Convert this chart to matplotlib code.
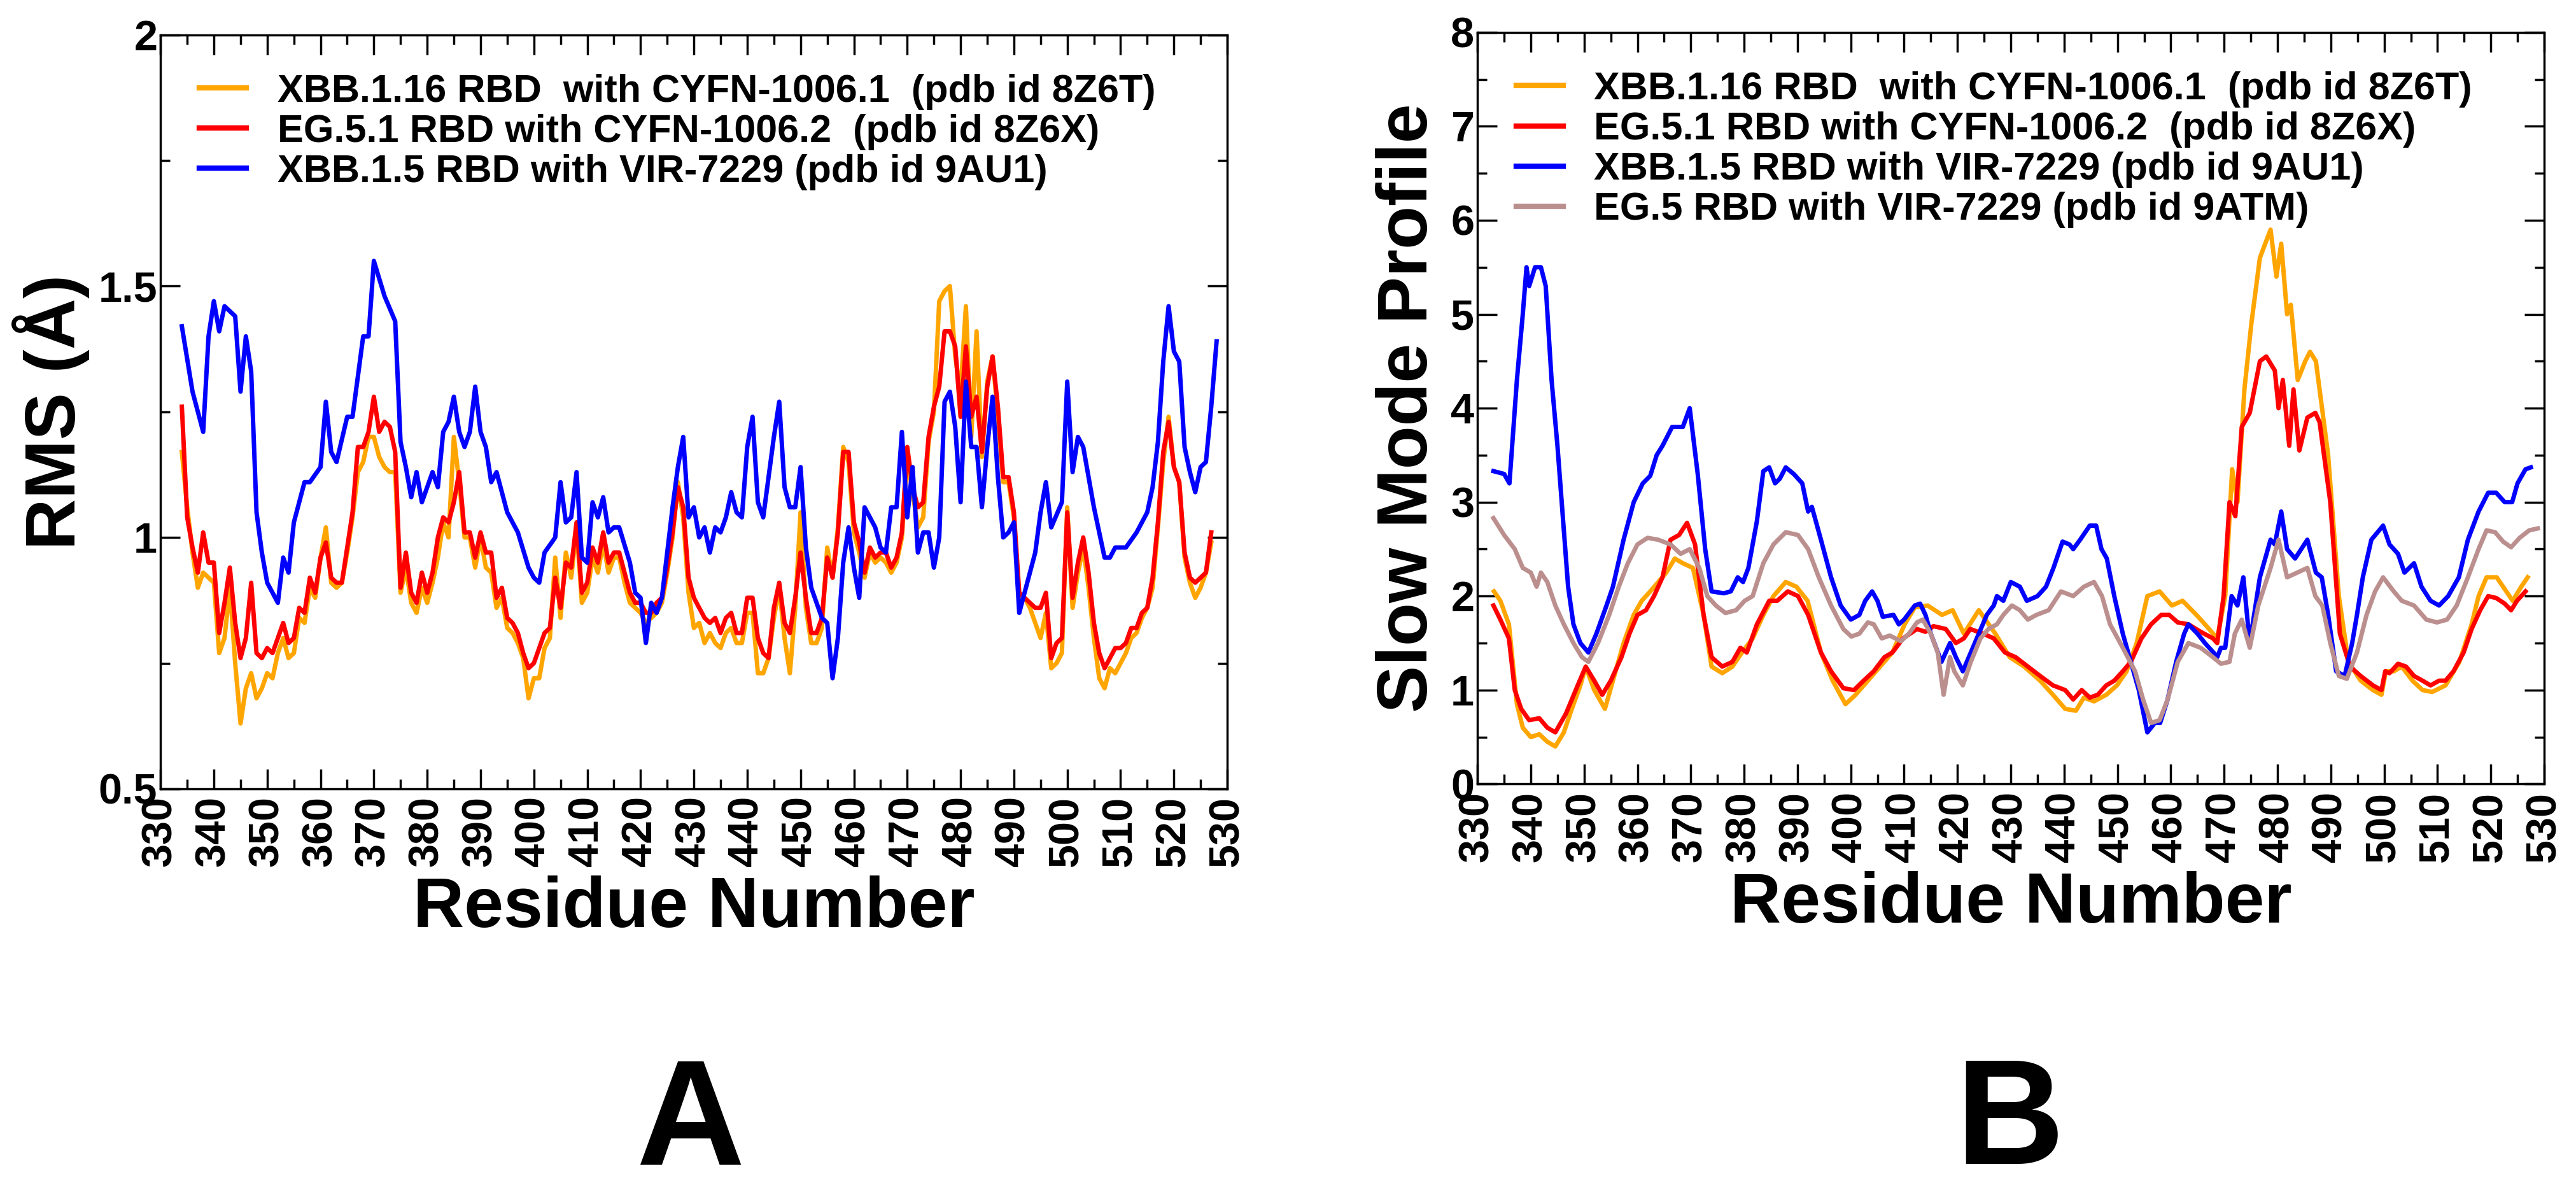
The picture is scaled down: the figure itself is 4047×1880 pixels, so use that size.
import matplotlib
matplotlib.use("Agg")
import matplotlib.pyplot as plt
from matplotlib.ticker import MultipleLocator, FormatStrFormatter
from matplotlib import font_manager as fm

names = {f.name for f in fm.fontManager.ttflist}
NARROW = "Liberation Sans Narrow" if "Liberation Sans Narrow" in names else "Liberation Sans"
BOLD = "Liberation Sans"

# ---------------- Panel A data (RMS) ----------------
a_blue_x = [334,336,338,339,340,341,342,344,345,346,347,348,349,350,352,353,354,355,357,358,360,361,362,363,365,366,368,369,370,372,374,375,376,377,378,379,381,382,383,384,385,386,387,388,389,390,391,392,393,395,397,399,400,401,402,404,405,406,407,408,409,410,411,412,413,414,415,416,418,419,420,421,422,423,424,425,426,427,428,429,430,431,432,433,434,435,436,437,438,439,440,441,442,443,444,445,446,447,448,449,450,451,452,453,454,455,456,457,458,459,460,461,462,463,464,465,466,467,468,469,470,471,472,473,474,475,476,477,478,479,480,481,482,483,484,485,486,487,488,489,490,491,492,494,495,496,497,499,500,501,502,503,505,507,508,509,511,513,515,516,517,518,519,520,521,522,523,524,525,526,527,528]
a_blue_y = [1.42,1.29,1.21,1.40,1.47,1.41,1.46,1.44,1.29,1.40,1.33,1.05,0.97,0.91,0.87,0.96,0.93,1.03,1.11,1.11,1.14,1.27,1.17,1.15,1.24,1.24,1.40,1.40,1.55,1.48,1.43,1.19,1.14,1.08,1.13,1.07,1.13,1.10,1.21,1.23,1.28,1.21,1.18,1.21,1.30,1.21,1.18,1.11,1.13,1.05,1.01,0.94,0.92,0.91,0.97,1.00,1.11,1.03,1.04,1.13,0.96,0.95,1.07,1.04,1.08,1.01,1.02,1.02,0.95,0.89,0.88,0.79,0.87,0.85,0.88,0.97,1.06,1.14,1.20,1.04,1.06,1.00,1.02,0.97,1.02,1.01,1.04,1.09,1.05,1.04,1.18,1.24,1.07,1.04,1.12,1.20,1.27,1.10,1.06,1.06,1.14,0.98,0.90,0.87,0.84,0.83,0.72,0.80,0.95,1.02,0.94,0.88,1.06,1.04,1.02,0.98,0.97,1.06,1.06,1.21,1.04,1.14,0.97,1.01,1.01,0.94,1.00,1.27,1.29,1.22,1.07,1.31,1.18,1.18,1.06,1.18,1.28,1.12,1.00,1.01,1.03,0.85,0.89,0.97,1.05,1.11,1.02,1.07,1.31,1.13,1.20,1.18,1.06,0.96,0.96,0.98,0.98,1.01,1.05,1.10,1.19,1.35,1.46,1.37,1.35,1.18,1.13,1.09,1.14,1.15,1.26,1.39]

a_res = list(range(334, 528))
a_red_y = [1.26,1.04,0.98,0.93,1.01,0.95,0.95,0.81,0.87,0.94,0.83,0.76,0.80,0.91,0.77,0.76,0.78,0.77,0.80,0.83,0.79,0.80,0.86,0.85,0.92,0.89,0.96,0.99,0.92,0.91,0.91,0.98,1.05,1.18,1.18,1.21,1.28,1.21,1.23,1.22,1.17,0.90,0.97,0.89,0.87,0.93,0.89,0.93,1.00,1.04,1.03,1.07,1.13,1.01,1.01,0.96,1.01,0.97,0.97,0.88,0.90,0.84,0.83,0.81,0.77,0.74,0.75,0.78,0.81,0.82,0.92,0.86,0.95,0.94,1.03,0.89,0.91,0.98,0.95,1.01,0.95,0.97,0.97,0.93,0.89,0.87,0.87,0.85,0.85,0.87,0.88,0.94,1.01,1.10,1.06,0.92,0.88,0.86,0.84,0.83,0.84,0.81,0.84,0.85,0.81,0.81,0.88,0.88,0.80,0.77,0.76,0.86,0.91,0.83,0.81,0.88,0.97,0.88,0.81,0.81,0.84,0.96,0.92,1.01,1.17,1.17,1.03,0.99,0.93,0.98,0.96,0.97,0.97,0.94,0.96,1.01,1.18,1.10,1.06,1.07,1.20,1.26,1.30,1.41,1.41,1.38,1.24,1.38,1.24,1.28,1.17,1.30,1.36,1.26,1.12,1.12,1.05,0.89,0.88,0.87,0.86,0.86,0.89,0.76,0.79,0.80,1.05,0.88,0.95,1.00,0.93,0.83,0.77,0.74,0.76,0.78,0.78,0.79,0.82,0.82,0.85,0.86,0.92,1.03,1.17,1.23,1.14,1.11,0.97,0.92,0.91,0.92,0.93,1.01]
a_orange_y = [1.17,1.06,0.97,0.90,0.93,0.92,0.91,0.77,0.80,0.90,0.75,0.63,0.70,0.73,0.68,0.70,0.73,0.72,0.77,0.80,0.76,0.77,0.84,0.83,0.90,0.88,0.96,1.02,0.91,0.90,0.91,0.97,1.04,1.13,1.15,1.20,1.20,1.16,1.14,1.13,1.13,0.89,0.94,0.87,0.85,0.90,0.87,0.91,0.96,1.03,1.00,1.20,1.11,1.00,1.00,0.94,1.00,0.94,0.93,0.86,0.88,0.82,0.81,0.79,0.76,0.68,0.72,0.72,0.78,0.80,0.96,0.84,0.97,0.92,1.02,0.87,0.89,0.96,0.93,0.99,0.93,0.96,0.96,0.91,0.87,0.86,0.85,0.83,0.84,0.85,0.87,0.93,1.00,1.11,1.04,0.89,0.82,0.83,0.79,0.81,0.79,0.78,0.81,0.82,0.79,0.79,0.85,0.85,0.73,0.73,0.76,0.84,0.90,0.80,0.73,0.86,1.05,0.86,0.79,0.79,0.82,0.98,0.92,1.02,1.18,1.15,1.01,0.97,0.92,0.97,0.95,0.96,0.95,0.93,0.95,1.00,1.16,1.09,1.02,1.04,1.19,1.25,1.47,1.49,1.50,1.36,1.29,1.46,1.20,1.41,1.16,1.31,1.36,1.24,1.11,1.11,1.04,0.87,0.88,0.86,0.83,0.80,0.85,0.74,0.75,0.77,1.06,0.86,0.93,0.98,0.90,0.80,0.72,0.70,0.74,0.73,0.75,0.77,0.80,0.81,0.84,0.86,0.90,1.02,1.15,1.24,1.14,1.11,0.96,0.91,0.88,0.90,0.93,0.99]

# ---------------- Panel B data (slow mode profile) ----------------
b_blue_x = [333,335,336,337.4,338.5,339.2,339.7,340.8,341.9,342.8,343.9,345,347,348,349.3,350.8,352.3,354.2,355.4,357.4,359.3,361,362.4,363.6,364.7,366.5,368.5,369.8,371.3,372.7,373.9,376.2,377.5,378.8,379.8,380.8,382.4,383.6,384.7,385.8,386.7,387.8,389.3,390.9,392,392.7,394.4,396.3,398.1,400,401.6,402.7,404,405,406,408,409,410,412,413,414,415,417,418.6,419.7,421,422.5,424,425.5,426.8,427.4,428.6,430,431.7,433,435,436.6,438,439.7,441,441.7,443,444.8,446,447,448,449.4,451,452.5,454,455.6,457,458,459.4,461,462.5,463.3,465,466.4,468,468.7,469.4,470.2,471.4,472.5,473.6,474.8,476.7,478.7,479.5,480.7,481.8,483.3,485.6,487.2,488.3,489.5,491,492.6,494,494.9,496,497.6,499.8,501,502.6,503.8,505.6,507,508.7,510.3,512,514,515.7,517.7,519.5,521,522.6,524,525,526.5,527.5]
b_blue_y = [3.33,3.30,3.20,4.30,5.00,5.50,5.30,5.50,5.50,5.30,4.30,3.60,2.10,1.70,1.50,1.40,1.60,1.90,2.10,2.60,3.00,3.20,3.28,3.50,3.60,3.80,3.80,4.00,3.30,2.50,2.05,2.03,2.05,2.20,2.15,2.30,2.80,3.33,3.37,3.20,3.25,3.37,3.30,3.20,2.90,2.95,2.60,2.20,1.90,1.75,1.80,1.95,2.05,1.95,1.78,1.80,1.70,1.75,1.90,1.92,1.80,1.60,1.30,1.50,1.35,1.20,1.40,1.60,1.80,1.90,2.00,1.95,2.15,2.10,1.95,2.00,2.10,2.30,2.58,2.55,2.50,2.60,2.75,2.75,2.50,2.40,2.00,1.60,1.30,1.00,0.55,0.65,0.65,0.90,1.30,1.60,1.70,1.60,1.50,1.40,1.35,1.45,1.45,2.00,1.90,2.20,1.50,2.20,2.60,2.55,2.90,2.50,2.40,2.60,2.25,2.20,1.80,1.20,1.15,1.50,1.80,2.20,2.60,2.75,2.55,2.45,2.25,2.35,2.10,1.95,1.90,2.00,2.20,2.60,2.90,3.10,3.10,3.00,3.00,3.20,3.35,3.37]

b_brown_x = [333,335,337,338.5,340,341.1,341.9,343.1,344.6,346.2,348,349.6,350.8,352.6,354.7,356.5,358.2,360,361.9,363.9,366.2,368.1,369.8,371.6,373.1,374.7,376.5,378.5,380.1,381.6,383.6,385.5,387.8,390.1,392,394,396.3,398.6,400.1,401.6,403.2,404.3,405.8,407.3,409.4,410.9,412.4,413.5,415,416.3,417.4,418.6,419.4,421,422.5,424.3,425.8,427.4,428.6,430.2,431.7,433.2,434.8,437.1,439.4,441.7,443.7,445.6,447.1,448.6,451,453.3,454.8,456.3,457.9,459.4,461.3,463.3,465.6,467.9,469.4,471,472,473.3,474.8,476.4,478.7,480.2,481.8,485.6,487.1,488.4,489.9,491.5,493,494.9,496.7,498.3,499.8,501.8,503.3,505.6,507.9,509.9,511.8,513.6,515.7,517.7,519.2,520.8,522.3,523.8,525.4,527.2,528.8]
b_brown_y = [2.83,2.65,2.50,2.30,2.25,2.10,2.25,2.15,1.90,1.70,1.50,1.35,1.30,1.50,1.80,2.10,2.35,2.55,2.62,2.60,2.55,2.45,2.50,2.30,2.00,1.90,1.82,1.85,1.95,2.00,2.35,2.55,2.68,2.65,2.50,2.20,1.90,1.65,1.57,1.60,1.72,1.70,1.55,1.58,1.52,1.60,1.72,1.75,1.60,1.40,0.95,1.35,1.20,1.05,1.30,1.55,1.65,1.70,1.80,1.90,1.85,1.75,1.80,1.85,2.05,2.00,2.10,2.15,2.00,1.70,1.45,1.20,0.90,0.65,0.68,0.90,1.30,1.50,1.45,1.35,1.28,1.30,1.60,1.75,1.45,1.90,2.30,2.60,2.20,2.30,2.00,1.90,1.50,1.15,1.12,1.40,1.80,2.05,2.20,2.05,1.95,1.90,1.75,1.72,1.75,1.90,2.20,2.50,2.70,2.68,2.58,2.52,2.62,2.70,2.72]

b_red_x = [333,334.3,335.9,337,338.2,339.7,341.6,343.1,344.6,346.6,348.8,350.3,351.9,353.4,355,357,358.5,360,361.6,363.1,364.7,366.2,367.8,369.3,370.8,372.4,373.9,375.9,377.8,379.3,380.5,382.4,384.7,386.2,388.2,390.1,392,394.4,396.3,398.6,400.6,402.4,404.3,406.3,407.8,409.8,412.4,414,415.5,417.8,419.7,421.2,422.4,424.8,426.8,428.9,430.9,433.2,435.5,437.9,440.2,441.7,443.3,444.8,446.3,447.9,449.4,451,452.5,454.5,456.3,458.2,459.7,461.3,463.3,465.6,467.9,468.7,469.9,471,472.1,473.3,474.8,476.7,477.9,479.5,480.2,481,482.2,483,484.1,485.6,487.1,487.9,489.9,491.7,493.6,495.6,497.9,499.5,500.2,501,502.6,504.1,505.6,507.2,508.7,510.3,511.5,513,514.9,516.4,518,519.5,521,522.6,523.8,524.9,526.5]
b_red_y = [1.90,1.75,1.55,1.00,0.80,0.68,0.70,0.60,0.55,0.75,1.05,1.25,1.10,0.95,1.10,1.35,1.60,1.80,1.85,2.00,2.20,2.60,2.65,2.78,2.55,1.80,1.35,1.25,1.30,1.45,1.40,1.70,1.95,1.95,2.05,2.00,1.80,1.40,1.20,1.02,1.00,1.10,1.20,1.35,1.40,1.55,1.65,1.62,1.68,1.65,1.50,1.55,1.65,1.60,1.55,1.40,1.35,1.25,1.15,1.05,1.00,0.90,1.00,0.92,0.95,1.05,1.10,1.20,1.30,1.55,1.70,1.80,1.80,1.72,1.70,1.62,1.55,1.50,2.00,3.00,2.85,3.80,3.95,4.50,4.55,4.40,4.00,4.30,3.60,4.20,3.55,3.90,3.95,3.85,3.00,1.60,1.25,1.15,1.05,1.00,1.20,1.18,1.28,1.25,1.15,1.10,1.05,1.10,1.10,1.20,1.40,1.65,1.85,2.00,1.98,1.92,1.85,1.95,2.05]

b_orange_x = [333.1,334.3,335.9,337.4,338.5,340.0,341.6,343.1,344.6,346.2,347.7,349.3,350.3,351.9,353.9,355.4,357.4,359.3,360.8,362.4,363.9,365.4,367.0,368.5,370.4,372.4,373.9,375.9,377.8,379.6,381.6,383.6,385.5,387.8,389.8,391.9,394.4,396.6,399.0,400.9,403.2,405.5,407.8,410.1,412.0,414.4,417.1,419.1,421.2,424.0,427.1,429.8,432.5,435.5,437.9,440.2,442.2,443.7,445.6,447.9,449.9,451.7,453.6,455.6,457.9,460.2,462.2,464.8,466.4,468.7,470.2,471.5,472.5,473.8,475.1,476.7,478.7,479.8,480.7,481.8,482.5,483.8,485.2,486.1,487.2,489.5,491.5,493.3,495.6,497.9,499.5,500.3,501.8,503.3,505.3,507.2,509.0,511.5,514.1,516.4,517.7,519.2,521.1,522.9,524.1,525.7,526.9]
b_orange_y = [2.05,1.95,1.70,0.85,0.60,0.50,0.53,0.45,0.40,0.55,0.80,1.05,1.25,1.00,0.80,1.10,1.50,1.80,1.95,2.05,2.15,2.25,2.40,2.35,2.30,1.80,1.25,1.18,1.25,1.40,1.55,1.80,2.00,2.15,2.10,1.95,1.40,1.10,0.85,0.95,1.10,1.25,1.40,1.70,1.88,1.90,1.80,1.85,1.60,1.85,1.60,1.35,1.25,1.10,0.95,0.80,0.78,0.92,0.88,0.95,1.05,1.20,1.50,2.00,2.05,1.90,1.95,1.80,1.70,1.55,2.00,3.35,3.00,4.20,4.90,5.60,5.90,5.40,5.75,5.00,5.10,4.30,4.50,4.60,4.50,3.50,2.00,1.30,1.10,1.00,0.95,1.20,1.20,1.25,1.10,1.00,0.98,1.05,1.30,1.70,2.00,2.20,2.20,2.05,1.95,2.10,2.20]

labels_A = ["XBB.1.16 RBD  with CYFN-1006.1  (pdb id 8Z6T)",
            "EG.5.1 RBD with CYFN-1006.2  (pdb id 8Z6X)",
            "XBB.1.5 RBD with VIR-7229 (pdb id 9AU1)"]
labels_B = labels_A + ["EG.5 RBD with VIR-7229 (pdb id 9ATM)"]
C_OR, C_RED, C_BLUE, C_BROWN = "#FFA500", "#FF0000", "#0000FF", "#BC8F8F"

fig = plt.figure(figsize=(40.48, 18.8), dpi=100)
axA = fig.add_axes([0.0623, 0.341, 0.414, 0.630])
axB = fig.add_axes([0.5734, 0.345, 0.414, 0.628])
LW = 5

axA.plot(a_res, a_orange_y, color=C_OR, lw=LW, label=labels_A[0])
axA.plot(a_res, a_red_y, color=C_RED, lw=LW, label=labels_A[1])
axA.plot(a_blue_x, a_blue_y, color=C_BLUE, lw=LW, label=labels_A[2])

axB.plot(b_orange_x, b_orange_y, color=C_OR, lw=LW, label=labels_B[0])
axB.plot(b_red_x, b_red_y, color=C_RED, lw=LW, label=labels_B[1])
axB.plot(b_blue_x, b_blue_y, color=C_BLUE, lw=LW, label=labels_B[2])
axB.plot(b_brown_x, b_brown_y, color=C_BROWN, lw=LW, label=labels_B[3])

for ax, (y0, y1, maj, mnr, ylab) in [(axA, (0.5, 2, 0.5, 0.25, "RMS (Å)")),
                                      (axB, (0, 8, 1, 0.5, "Slow Mode Profile"))]:
    ax.set_xlim(330, 530)
    ax.set_ylim(y0, y1)
    ax.xaxis.set_major_locator(MultipleLocator(10))
    ax.xaxis.set_minor_locator(MultipleLocator(5))
    ax.yaxis.set_major_locator(MultipleLocator(maj))
    ax.yaxis.set_minor_locator(MultipleLocator(mnr))
    ax.yaxis.set_major_formatter(FormatStrFormatter("%g"))
    ax.tick_params(which="both", direction="in", top=True, right=True, width=2.5)
    ax.tick_params(which="major", length=22)
    ax.tick_params(which="minor", length=11)
    ax.tick_params(axis="x", labelrotation=90, pad=8)
    for s in ax.spines.values():
        s.set_linewidth(2.5)
    for t in ax.get_xticklabels() + ax.get_yticklabels():
        t.set_fontfamily(BOLD); t.set_fontweight("bold"); t.set_fontsize(48)
    ax.set_xlabel("Residue Number", fontsize=80, fontweight="bold", fontfamily=BOLD, labelpad=10)
    ax.set_ylabel(ylab, fontsize=80, fontweight="bold", fontfamily=BOLD, labelpad=10)
    leg = ax.legend(loc="upper left", frameon=False, prop={"family": NARROW, "weight": "bold", "size": 44},
                    handlelength=1.2, handletextpad=0.8, labelspacing=0.1, borderaxespad=0.6)
    for h in leg.get_lines():
        h.set_linewidth(6)

fig.text(0.268, 0.06, "A", fontsize=170, fontweight="bold", fontfamily=BOLD, ha="center", va="center")
fig.text(0.780, 0.06, "B", fontsize=170, fontweight="bold", fontfamily=BOLD, ha="center", va="center")

fig.savefig("out.png", dpi=100)
